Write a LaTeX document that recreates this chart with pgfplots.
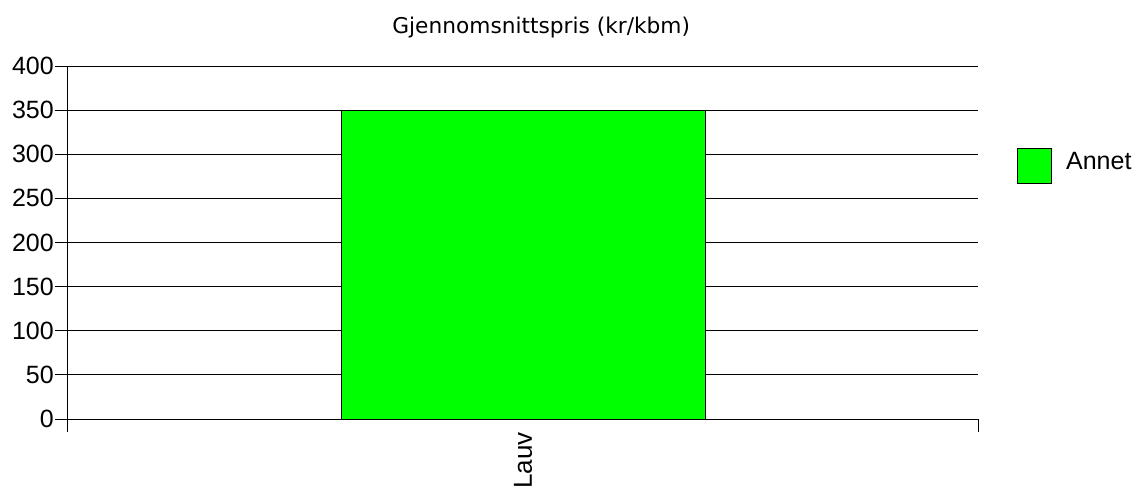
\documentclass[border=0pt]{standalone}
\usepackage{fontspec}
\setmainfont{Liberation Sans}
\newfontfamily\titlefont{DejaVu Sans}
\usepackage{pgfplots}
\pgfplotsset{compat=1.18}
\begin{document}
\begin{tikzpicture}
\path[use as bounding box] (-68pt,-71pt) rectangle (1071pt,419pt);
\begin{axis}[
  at={(0,0)}, anchor=south west,
  scale only axis, width=910pt, height=353pt,
  xmin=-0.5, xmax=0.5, ymin=0, ymax=400,
  axis x line*=bottom, axis y line*=left,
  axis line style={black, line width=1pt},
  xtick={-0.5,0.5}, xticklabels={},
  ytick={0,50,...,400},
  tick align=outside, major tick length=13pt,
  tick style={black, line width=1pt},
  ymajorgrids, grid style={black, line width=1pt},
  /pgf/number format/assume math mode=true,
  ticklabel style={font=\fontsize{25}{30}\selectfont},
  yticklabel style={inner sep=1pt},
  extra x ticks={0}, extra x tick labels={Lauv},
  extra x tick style={major tick length=0pt, grid=none,
    xticklabel style={rotate=90, anchor=east, inner sep=0pt, xshift=-13pt, font=\fontsize{26}{30}\selectfont}},
  title={Gjennomsnittspris (kr/kbm)},
  title style={font=\titlefont\fontsize{21.7}{26}\selectfont, at={(0.52,1)}, anchor=base, yshift=27pt, inner sep=0pt},
  legend style={draw=none, fill=none, at={(1.043,0.717)}, anchor=west,
    inner sep=0pt, outer sep=0pt,
    font=\fontsize{25}{30}\selectfont,
    nodes={inner sep=0pt},
    /tikz/every odd column/.append style={column sep=14pt}},
  legend image code/.code={\draw[#1] (0pt,-22pt) rectangle (34pt,13pt);},
]
\addplot[ybar, bar width=364pt, fill={rgb,255:red,0;green,255;blue,0}, draw=black, line width=1pt] coordinates {(0,350)};
\addlegendentry{Annet}
\end{axis}
\end{tikzpicture}
\end{document}
